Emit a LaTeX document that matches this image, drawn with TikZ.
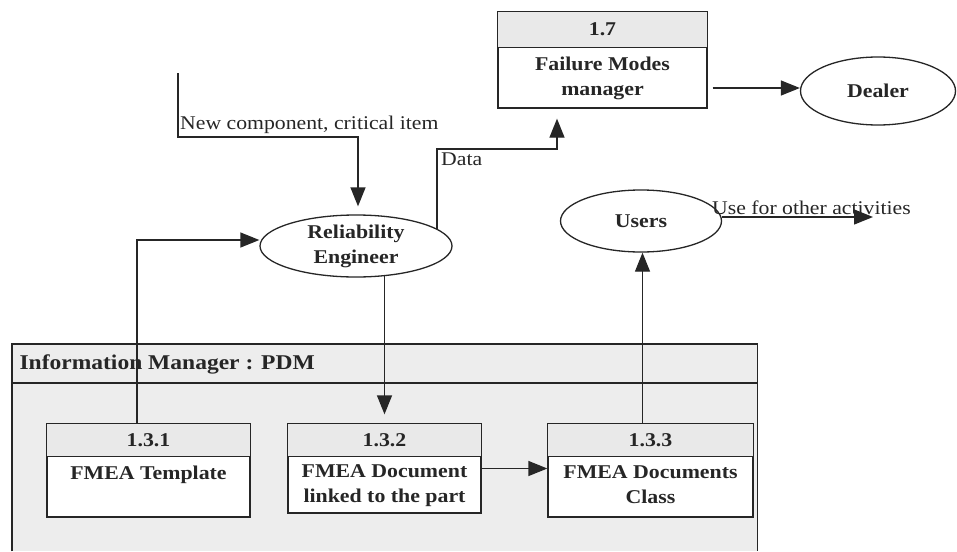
\documentclass[tikz,border=0pt]{standalone}
\usepackage{fontspec}
\setmainfont[FakeStretch=1.12]{Liberation Serif}
\usetikzlibrary{arrows.meta,shapes.geometric}
\definecolor{ink}{HTML}{262626}
\definecolor{hdr}{HTML}{E9E9E9}
\definecolor{bg}{HTML}{EDEDED}
\begin{document}
\begin{tikzpicture}[x=1pt,y=-1pt,
  every node/.style={text=ink, font=\fontsize{19.5}{25}\selectfont},
  procbox/.style={draw=ink, line width=1.3pt, fill=white, inner sep=0pt},
  actor/.style={draw=ink, line width=1.3pt, ellipse, fill=white, inner sep=0pt, font=\fontsize{19.5}{25}\selectfont\bfseries, align=center},
  hdrtxt/.style={font=\fontsize{19.5}{25}\selectfont\bfseries},
  bodytxt/.style={font=\fontsize{19.5}{25}\selectfont\bfseries, align=center, anchor=north, inner sep=3pt},
  flow/.style={draw=ink, line width=1.3pt, -{Triangle[length=19pt,width=15pt]}},
  lbl/.style={font=\fontsize{19.4}{22}\selectfont, inner sep=1pt}
]
\useasboundingbox (0,0) rectangle (957,551);
\fill[white] (0,0) rectangle (957,551);

% PDM container
\node[fill=bg, minimum width=745pt, minimum height=207pt, inner sep=0pt, anchor=north west] (pdm) at (12,344) {};
\draw[ink, line width=1.3pt] (pdm.south west) -- (pdm.north west) -- (pdm.north east) -- (pdm.south east);
\draw[ink, line width=1.1pt] ([yshift=-39pt]pdm.north west) -- ([yshift=-39pt]pdm.north east);
\node[hdrtxt, font=\fontsize{21}{25}\selectfont\bfseries, anchor=west] (pdmlbl) at (16,364) {Information Manager : PDM};

% process 1.7
\node[procbox, minimum width=209pt, minimum height=96pt] (p17) at (602.5,60) {};
\fill[hdr] (p17.north west) rectangle ([yshift=-36pt]p17.north east);
\draw[ink, line width=1.3pt] (p17.north west) rectangle (p17.south east);
\draw[ink, line width=1.3pt] ([yshift=-36pt]p17.north west) -- ([yshift=-36pt]p17.north east);
\node[hdrtxt] (t17) at ([yshift=-18pt]p17.north) {1.7};
\node[bodytxt] (b17) at ([yshift=-42pt]p17.north) {Failure Modes\\manager};

% process 1.3.1
\node[procbox, minimum width=203pt, minimum height=93pt] (p131) at (148.5,470.5) {};
\fill[hdr] (p131.north west) rectangle ([yshift=-33pt]p131.north east);
\draw[ink, line width=1.3pt] (p131.north west) rectangle (p131.south east);
\draw[ink, line width=1.3pt] ([yshift=-33pt]p131.north west) -- ([yshift=-33pt]p131.north east);
\node[hdrtxt] (t131) at ([yshift=-16.5pt]p131.north) {1.3.1};
\node[bodytxt] (b131) at ([yshift=-39pt]p131.north) {FMEA Template};

% process 1.3.2
\node[procbox, minimum width=193pt, minimum height=89pt] (p132) at (384.5,468.5) {};
\fill[hdr] (p132.north west) rectangle ([yshift=-33pt]p132.north east);
\draw[ink, line width=1.3pt] (p132.north west) rectangle (p132.south east);
\draw[ink, line width=1.3pt] ([yshift=-33pt]p132.north west) -- ([yshift=-33pt]p132.north east);
\node[hdrtxt] (t132) at ([yshift=-16.5pt]p132.north) {1.3.2};
\node[bodytxt] (b132) at ([yshift=-38pt]p132.north) {FMEA Document\\linked to the part};

% process 1.3.3
\node[procbox, minimum width=205pt, minimum height=93pt] (p133) at (650.5,470.5) {};
\fill[hdr] (p133.north west) rectangle ([yshift=-33pt]p133.north east);
\draw[ink, line width=1.3pt] (p133.north west) rectangle (p133.south east);
\draw[ink, line width=1.3pt] ([yshift=-33pt]p133.north west) -- ([yshift=-33pt]p133.north east);
\node[hdrtxt] (t133) at ([yshift=-16.5pt]p133.north) {1.3.3};
\node[bodytxt] (b133) at ([yshift=-39pt]p133.north) {FMEA Documents\\Class};

% external entities
\node[actor, minimum width=192pt, minimum height=62pt] (re) at (356,246) {Reliability\\Engineer};
\node[actor, minimum width=161pt, minimum height=62pt] (users) at (641,221) {Users};
\node[actor, minimum width=155pt, minimum height=68pt] (dealer) at (878,91) {Dealer};

% connectors
\coordinate (nc) at (178,73);
\coordinate (ncb) at (358,137);
\draw[flow, shorten >=8pt] (nc) |- (ncb) -- (ncb |- re.north);
\node[lbl, anchor=south west] (nclbl) at (179,135) {New component, critical item};

\draw[flow] ([xshift=-11.5pt]p131.north) |- ([yshift=6pt]re.west);

\coordinate (db) at (557,149);
\draw[flow, shorten >=10pt] (re.12) |- (db) -- (db |- p17.south);
\node[lbl, anchor=north west] (dlbl) at (440,152) {Data};

\draw[flow, shorten <=5pt] ([yshift=-28pt]p17.east) -- ([yshift=-28pt]p17.east -| dealer.west);

\draw[flow, shorten >=9pt] ([yshift=2pt]p132.north |- re.south) -- (p132.north);

\draw[flow] (p132.east) -- (p132.east -| p133.west);

\draw[flow] ([xshift=-8pt]p133.north) -- ([xshift=-8pt]p133.north |- users.south);

\coordinate (out) at (873,217);
\draw[flow] ([yshift=4pt]users.east) -- (out);
\node[lbl, anchor=south west] (ulbl) at (711,216) {Use for other activities};
\end{tikzpicture}
\end{document}
